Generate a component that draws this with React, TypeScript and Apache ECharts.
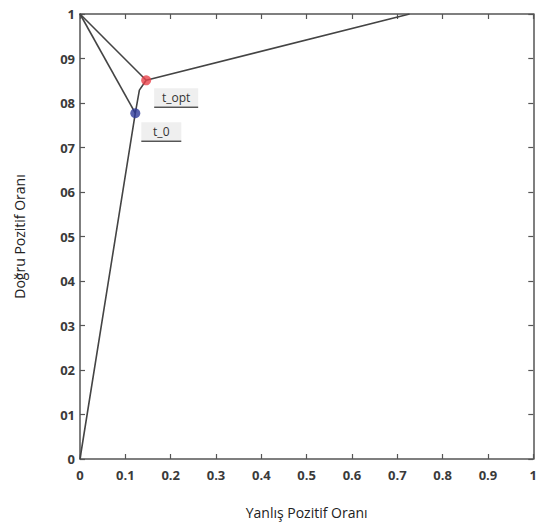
import React, { useEffect, useRef } from "react";
import * as echarts from "echarts";

const xTickLabels = ["0", "0.1", "0.2", "0.3", "0.4", "0.5", "0.6", "0.7", "0.8", "0.9", "1"];
const yTickLabels = ["0", "01", "02", "03", "04", "05", "06", "07", "08", "09", "1"];

// ROC curve points (FPR, TPR)
const rocFpr = [0, 0.122, 0.131, 0.146, 0.727];
const rocTpr = [0, 0.777, 0.829, 0.851, 1.0];

const cornerPoint = [0, 1];
const t0Point = [0.122, 0.777];
const tOptPoint = [0.146, 0.851];

const pointNames = ["t_opt", "t_0"];

const FONT = "'Liberation Sans Narrow', 'Open Sans', sans-serif";

export default function App() {
  const ref = useRef<HTMLDivElement>(null);
  useEffect(() => {
    if (!ref.current) return;
    const chart = echarts.init(ref.current, undefined, { renderer: "svg" });
    const axisCommon = {
      type: "value" as const,
      min: 0,
      max: 1,
      interval: 0.1,
      splitLine: { show: false },
      axisLine: { show: true, onZero: false, lineStyle: { color: "#555", width: 1.5 } },
      axisTick: { show: true, inside: true, length: 5, lineStyle: { color: "#555", width: 1.2 } },
    };
    const lineStyle = { color: "#444", width: 1.6 };
    chart.setOption({
      animation: false,
      backgroundColor: "#fff",
      grid: { left: 80, right: 2, top: 14, bottom: 71 },
      xAxis: [
        {
          ...axisCommon,
          position: "bottom",
          name: "Yanlış Pozitif Oranı",
          nameLocation: "middle",
          nameGap: 46,
          nameTextStyle: { fontFamily: "'Open Sans', sans-serif", fontSize: 14, color: "#222" },
          axisLabel: {
            margin: 9,
            fontFamily: FONT,
            fontSize: 13,
            fontWeight: "bold",
            color: "#3a3a3a",
            formatter: (v: number) => xTickLabels[Math.round(v * 10)],
          },
        },
        { ...axisCommon, position: "top", axisLabel: { show: false } },
      ],
      yAxis: [
        {
          ...axisCommon,
          position: "left",
          name: "Doğru Pozitif Oranı",
          nameLocation: "middle",
          nameGap: 54,
          nameTextStyle: { fontFamily: "'Open Sans', sans-serif", fontSize: 14, color: "#222" },
          axisLabel: {
            margin: 5,
            fontFamily: FONT,
            fontSize: 13,
            fontWeight: "bold",
            color: "#3a3a3a",
            formatter: (v: number) => yTickLabels[Math.round(v * 10)],
          },
        },
        { ...axisCommon, position: "right", axisLabel: { show: false } },
      ],
      series: [
        {
          type: "line",
          data: rocFpr.map((x, i) => [x, rocTpr[i]]),
          showSymbol: false,
          lineStyle,
          z: 2,
        },
        {
          type: "line",
          data: [cornerPoint, t0Point],
          showSymbol: false,
          lineStyle,
          z: 2,
        },
        {
          type: "line",
          data: [cornerPoint, tOptPoint],
          showSymbol: false,
          lineStyle,
          z: 2,
        },
        {
          type: "scatter",
          data: [tOptPoint],
          symbolSize: 10,
          itemStyle: { color: "#e8424b" },
          z: 5,
        },
        {
          type: "scatter",
          data: [t0Point],
          symbolSize: 10,
          itemStyle: { color: "#2d3a99" },
          z: 5,
        },
      ],
    });

    const pts = [tOptPoint, t0Point];
    const offsets = [
      [8, 8, 44],
      [6, 9, 40],
    ];
    const elements: any[] = [];
    pts.forEach((p, i) => {
      const px = chart.convertToPixel({ gridIndex: 0 }, p) as number[];
      const [dx, dy, w] = offsets[i];
      const left = px[0] + dx;
      const top = px[1] + dy;
      elements.push({
        type: "rect",
        shape: { x: left, y: top, width: w, height: 18 },
        style: { fill: "#efefef" },
        z: 10,
      });
      elements.push({
        type: "text",
        x: left + w / 2,
        y: top + 9,
        style: {
          text: pointNames[i],
          fontFamily: FONT,
          fontSize: 12,
          fill: "#333",
          align: "center",
          verticalAlign: "middle",
        },
        z: 11,
      });
      elements.push({
        type: "line",
        shape: { x1: left, y1: top + 19, x2: left + w, y2: top + 19 },
        style: { stroke: "#555", lineWidth: 1.5 },
        z: 11,
      });
    });
    chart.setOption({ graphic: elements });

    return () => chart.dispose();
  }, []);
  return (
    <div
      ref={ref}
      style={{ position: "fixed", left: 0, top: 0, width: 540, height: 530 }}
    />
  );
}
